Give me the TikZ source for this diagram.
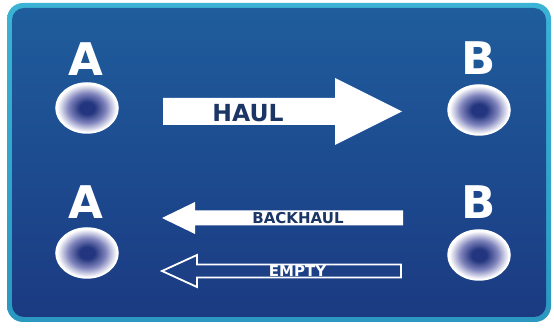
\documentclass[tikz,border=0pt]{standalone}
\usepackage{fontspec}
\newfontfamily\dvs{DejaVu Sans}
\usetikzlibrary{shapes.geometric}
\definecolor{tealA}{HTML}{3BB3D4}
\definecolor{tealB}{HTML}{2A98C0}
\definecolor{panelTop}{HTML}{1F5D9D}
\definecolor{panelBot}{HTML}{1B3A82}
\definecolor{ringC}{HTML}{22357E}
\definecolor{ringM}{HTML}{8084BC}
\definecolor{navyTxt}{HTML}{1B3565}
\pgfdeclareradialshading{ringshade}{\pgfpoint{0bp}{0bp}}{color(0bp)=(ringC); color(6bp)=(ringC); color(15bp)=(ringM); color(24bp)=(white); color(50bp)=(white)}
\tikzset{
  lettr/.style={text=white, font=\dvs\bfseries\fontsize{45}{45}\selectfont, anchor=base, inner sep=0pt},
  pad/.style={ellipse, minimum width=62pt, minimum height=50pt, draw=white, line width=1.5pt, shading=ringshade, inner sep=0pt},
  arrowfill/.style={fill=white},
  arrowline/.style={draw=white, line width=1.8pt, line join=miter},
  lbl/.style={font=\dvs\bfseries, anchor=base, inner sep=0pt}
}
\begin{document}
\begin{tikzpicture}[x=1pt,y=-1pt]
\useasboundingbox (0,0) rectangle (554,328);
\fill[white] (0,0) rectangle (554,328);
% frame
\shade[top color=tealA, bottom color=tealB, rounded corners=16pt] (7,3) rectangle (551,322);
\shade[top color=panelTop, bottom color=panelBot, rounded corners=12pt] (12,8) rectangle (546,317);
% letters
\node[lettr] (LA1) at (86,76) {A};
\node[lettr] (LB1) at (479,75) {B};
\node[lettr] (LA2) at (86,219) {A};
\node[lettr] (LB2) at (479,219) {B};
% pads
\node[pad] (PA1) at (87,108) {};
\node[pad] (PB1) at (479,110) {};
\node[pad] (PA2) at (87,253) {};
\node[pad] (PB2) at (479,255) {};
% HAUL arrow
\fill[arrowfill] (163,98) -- (335,98) -- (335,78) -- (402,111.5) -- (335,145) -- (335,125) -- (163,125) -- cycle;
\node[lbl, text=navyTxt, font=\dvs\bfseries\fontsize{23.5}{24}\selectfont] (haul) at (248,122) {HAUL};
% BACKHAUL arrow
\fill[arrowfill] (403,210.5) -- (195,210.5) -- (195,202) -- (162,218) -- (195,234) -- (195,225.5) -- (403,225.5) -- cycle;
\node[lbl, text=navyTxt, font=\dvs\bfseries\fontsize{15}{16}\selectfont] (backhaul) at (298,224) {BACKHAUL};
% EMPTY arrow
\draw[arrowline] (401,264.5) -- (197,264.5) -- (197,255) -- (162,271) -- (197,287) -- (197,277.5) -- (401,277.5) -- cycle;
\node[lbl, text=white, font=\dvs\bfseries\fontsize{15}{16}\selectfont] (empty) at (297.5,277) {EMPTY};
\end{tikzpicture}
\end{document}
